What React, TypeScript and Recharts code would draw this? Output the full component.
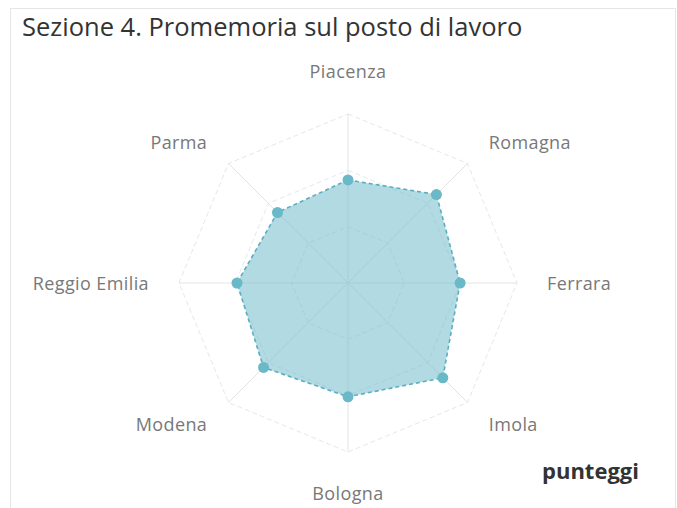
import { PolarAngleAxis, PolarGrid, PolarRadiusAxis, Radar, RadarChart } from "recharts";

const areas = ["Piacenza", "Romagna", "Ferrara", "Imola", "Bologna", "Modena", "Reggio Emilia", "Parma"];
const scores = [1.83, 2.22, 1.99, 2.38, 2.02, 2.12, 1.97, 1.77];
const radiusTicks = [0, 1, 2, 3];

const data = areas.map((area, i) => ({ area, score: scores[i] }));

const CX = 348;
const CY = 283;
const FONT = "'Open Sans', 'Noto Sans', sans-serif";

function AreaTick(props: any) {
  const { x, y, payload } = props;
  const dx = x - CX;
  const dy = y - CY;
  const len = Math.sqrt(dx * dx + dy * dy) || 1;
  const ux = dx / len;
  const uy = dy / len;
  const r = 199;
  const tx = CX + ux * r;
  const ty = CY + uy * r;
  let anchor: "start" | "middle" | "end" = "middle";
  if (ux > 0.2) anchor = "start";
  else if (ux < -0.2) anchor = "end";
  let baseline = ty + 7;
  if (Math.abs(ux) < 0.2) baseline = uy < 0 ? ty - 6 : ty + 18;
  return (
    <text
      x={tx}
      y={baseline}
      textAnchor={anchor}
      fill="#787878"
      fontSize={18}
      letterSpacing={0.4}
      fontFamily={FONT}
    >
      {payload.value}
    </text>
  );
}

export default function App() {
  return (
    <div style={{ position: "absolute", left: 0, top: 0, width: 677, height: 508, background: "#fff", overflow: "hidden" }}>
      <div
        style={{
          position: "absolute",
          left: 10,
          top: 8,
          width: 666,
          height: 520,
          border: "1px solid #e6e6e6",
          boxSizing: "border-box",
        }}
      />
      <div
        style={{
          position: "absolute",
          left: 22,
          top: 9,
          fontFamily: FONT,
          fontSize: 25.5,
          color: "#333",
          whiteSpace: "nowrap",
        }}
      >
        Sezione 4. Promemoria sul posto di lavoro
      </div>
      <div
        style={{
          position: "absolute",
          left: 542,
          top: 455,
          fontFamily: FONT,
          fontSize: 22,
          fontWeight: 700,
          color: "#333",
          whiteSpace: "nowrap",
        }}
      >
        punteggi
      </div>
      <div style={{ position: "absolute", left: 0, top: 0 }}>
        <RadarChart width={677} height={508} data={data} cx={CX} cy={CY} outerRadius={169}>
          <PolarGrid gridType="polygon" stroke="#e4e4e4" radialLines={true} polarRadius={[0]} />
          <PolarGrid gridType="polygon" stroke="#e2e7f1" strokeDasharray="5 3" radialLines={false} />
          <PolarAngleAxis dataKey="area" tick={<AreaTick />} tickLine={false} axisLine={false} />
          <PolarRadiusAxis domain={[0, 3]} ticks={radiusTicks as any} tickCount={4} tick={false} axisLine={false} />
          <Radar
            dataKey="score"
            name="punteggi"
            stroke="#5aaec0"
            strokeWidth={1.6}
            strokeDasharray="4 3"
            fill="#72bccb"
            fillOpacity={0.55}
            dot={{ r: 5.5, fill: "#6ab9c8", stroke: "none", fillOpacity: 1 }}
            isAnimationActive={false}
          />
        </RadarChart>
      </div>
    </div>
  );
}
